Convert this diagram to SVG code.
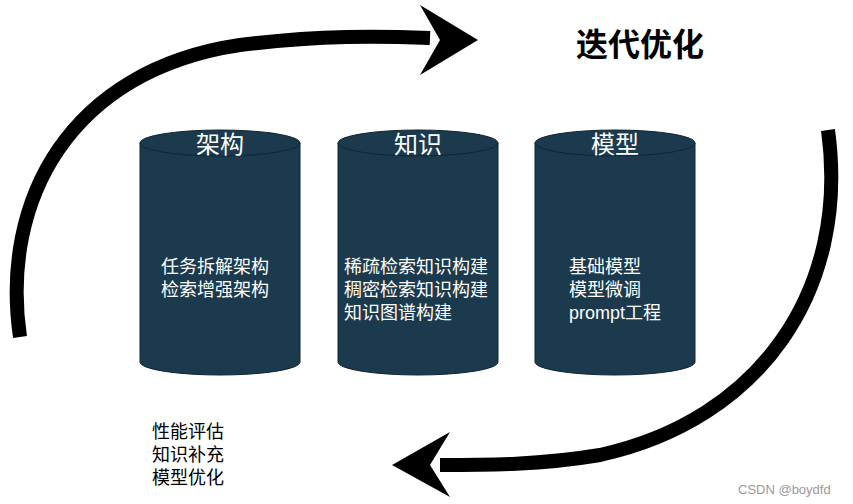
<svg xmlns="http://www.w3.org/2000/svg" width="853" height="504" viewBox="0 0 853 504">
<style>
.cyl{fill:#1b3a4e;stroke:#0f2533;stroke-width:1}
.t{font-family:"Liberation Sans","Noto Sans CJK SC",sans-serif;fill:#fff}
.h{font-size:24px;text-anchor:middle}
.b{font-size:18px}
.k{font-family:"Liberation Sans","Noto Sans CJK SC",sans-serif;fill:#000;font-size:18px}
.arr{fill:none;stroke:#000;stroke-width:14}
</style>
<rect width="853" height="504" fill="#fff"/>
<g id="connectors">
<path class="arr" d="M20,337 C0,200 70,70 240,45 C320,35 380,36 430,38"/>
<polygon points="420,5 478,40 420,75 440,40" fill="#000"/>
<path class="arr" d="M828,130 C850,290 760,420 600,455 C540,465 490,465 440,465"/>
<polygon points="450,432 392,465 450,497 430,465" fill="#000"/>
</g>
<g id="title"><text x="640" y="56" text-anchor="middle" font-family="Liberation Sans,Noto Sans CJK SC,sans-serif" font-weight="bold" font-size="32">迭代优化</text></g>
<g id="c1">
<path class="cyl" d="M140,143 V362 A80,13 0 0 0 300,362 V143 A80,13 0 0 0 140,143 Z"/>
<path d="M140,143 A80,13 0 0 0 300,143" fill="none" stroke="#0f2533"/>
<text class="t h" x="220" y="153">架构</text>
<text class="t b" x="161" y="273">任务拆解架构</text>
<text class="t b" x="161" y="296">检索增强架构</text>
</g>
<g id="c2">
<path class="cyl" d="M338,143 V362 A80,13 0 0 0 498,362 V143 A80,13 0 0 0 338,143 Z"/>
<path d="M338,143 A80,13 0 0 0 498,143" fill="none" stroke="#0f2533"/>
<text class="t h" x="418" y="153">知识</text>
<text class="t b" x="344" y="273">稀疏检索知识构建</text>
<text class="t b" x="344" y="296">稠密检索知识构建</text>
<text class="t b" x="344" y="319">知识图谱构建</text>
</g>
<g id="c3">
<path class="cyl" d="M535,143 V362 A80,13 0 0 0 695,362 V143 A80,13 0 0 0 535,143 Z"/>
<path d="M535,143 A80,13 0 0 0 695,143" fill="none" stroke="#0f2533"/>
<text class="t h" x="615" y="153">模型</text>
<text class="t b" x="569" y="273">基础模型</text>
<text class="t b" x="569" y="296">模型微调</text>
<text class="t b" x="569" y="319">prompt工程</text>
</g>
<g id="notes">
<text class="k" x="152" y="438">性能评估</text>
<text class="k" x="152" y="461">知识补充</text>
<text class="k" x="152" y="484">模型优化</text>
</g>
<text x="738" y="494" font-family="Liberation Sans,sans-serif" font-size="13" fill="#999">CSDN @boydfd</text>
</svg>
